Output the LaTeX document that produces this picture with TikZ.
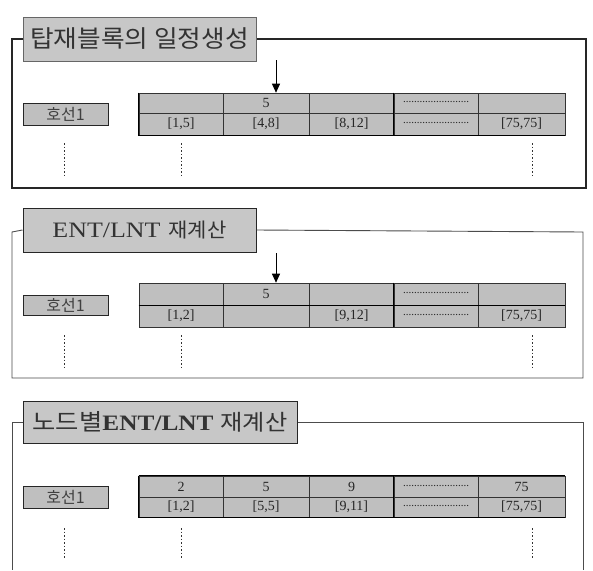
\documentclass[tikz,border=0pt]{standalone}
\usepackage{fontspec}
\setmainfont{Liberation Serif}
\newfontfamily\kr{Noto Sans CJK KR}
\usetikzlibrary{arrows.meta}
\def\mydots{\fontsize{11}{11}\selectfont\raisebox{2pt}{........................}}
\tikzset{
  cell/.style={draw=black!80, line width=0.6pt, fill=black!25, inner sep=0pt, anchor=center,
    font=\fontsize{14}{14}\selectfont, text=black!85},
  titlebox/.style={draw=black!60, line width=1pt, fill=black!22, inner sep=0pt, minimum height=44pt, text=black!80},
  hobox/.style={draw=black!85, line width=1pt, fill=black!25, inner sep=0pt, minimum width=85pt,
    font=\kr\fontsize{16}{16}\selectfont, text=black!75},
  frameline/.style={draw=black!70, line width=0.9pt},
  vdots/.style={draw=black!80, line width=1pt, dash pattern=on 1.5pt off 2pt},
  tablebold/.style={draw=black, line width=1.3pt},
  pointer/.style={draw=black, line width=0.9pt, -{Triangle[width=8pt,length=9pt]}},
}
\begin{document}
\begin{tikzpicture}[x=1pt,y=-1pt]
\useasboundingbox (0,0) rectangle (593,570);
\fill[white] (0,0) rectangle (593,570);

% ================= Panel 1 =================
\node[titlebox, minimum width=233pt] (t1) at (139.5,39)
  {\scalebox{1.07}[1]{\kr\fontsize{24}{24}\selectfont 탑재블록의 일정생성}};
\draw[frameline, line width=1.1pt, draw=black!85] (t1.west) -- (12,39) -- (12,188) -- (586,188) -- (586,39) -- (t1.east);
\node[hobox, minimum height=22pt] (h1) at (65.5,114) {호선1};
\foreach \c/\w/\a/\b [count=\i] in {181/84/{}/{[1,5]}, 266/86/{5}/{[4,8]}, 351.5/85/{}/{[8,12]}, 436/84/{\mydots}/{\mydots}, 521.5/87/{}/{[75,75]}}{
  \node[cell, minimum width=\w pt, minimum height=20pt] (p1a\i) at (\c,103) {\a};
  \node[cell, minimum width=\w pt, minimum height=22pt] (p1b\i) at (\c,124) {\b};
}
\draw[tablebold] (p1a1.north west) -- (p1b1.south west) -- (p1b5.south east);
\draw[tablebold] (p1a4.north west) -- (p1b4.south west);
\coordinate (s1) at (276,60);
\draw[pointer] (s1) -- (s1 |- p1a2.north);
\draw[vdots] (64,143) -- (64,175);
\draw[vdots] (181,143) -- (181,175);
\draw[vdots] (532,143) -- (532,175);

% ================= Panel 2 =================
\node[titlebox, minimum width=233pt, draw=black!85] (t2) at (139.5,230)
  {\scalebox{1.18}[1]{\fontsize{22}{22}\selectfont ENT/LNT}\hspace{8pt}\scalebox{1.05}[1]{\kr\fontsize{20}{20}\selectfont 재계산}};
\draw[frameline] (t2.west) -- (12,232) -- (12,378) -- (583,378) -- (583,232) -- (t2.east);
\node[hobox, minimum height=20pt] (h2) at (65.5,305) {호선1};
\foreach \c/\w/\a/\b [count=\i] in {181/84/{}/{[1,2]}, 266/86/{5}/{}, 351.5/85/{}/{[9,12]}, 436/84/{\mydots}/{\mydots}, 521.5/87/{}/{[75,75]}}{
  \node[cell, minimum width=\w pt, minimum height=22pt] (p2a\i) at (\c,294) {\a};
  \node[cell, minimum width=\w pt, minimum height=22pt] (p2b\i) at (\c,316) {\b};
}
\draw[tablebold] (p2a1.south west) -- (p2a5.south east);
\draw[tablebold] (p2a4.north west) -- (p2b4.south west);
\coordinate (s2) at (276,253);
\draw[pointer] (s2) -- (s2 |- p2a2.north);
\draw[vdots] (64,335) -- (64,367);
\draw[vdots] (181,335) -- (181,367);
\draw[vdots] (532,335) -- (532,367);

% ================= Panel 3 =================
\node[titlebox, minimum width=274pt, minimum height=42pt, draw=black!85] (t3) at (160,422)
  {\scalebox{1.1}[1]{\kr\fontsize{23}{23}\selectfont 노드별}\scalebox{1.15}[1]{\bfseries\fontsize{22}{22}\selectfont ENT/LNT}\hspace{7pt}\scalebox{1.1}[1]{\kr\fontsize{22}{22}\selectfont 재계산}};
\draw[frameline] (t3.west) -- (12,422) -- (12,570);
\draw[frameline] (t3.east) -- (583,422) -- (583,570);
\node[hobox, minimum height=22pt] (h3) at (65.5,497) {호선1};
\foreach \c/\w/\a/\b [count=\i] in {181/84/{2}/{[1,2]}, 266/86/{5}/{[5,5]}, 351.5/85/{9}/{[9,11]}, 436/84/{\mydots}/{\mydots}, 521.5/87/{75}/{[75,75]}}{
  \node[cell, minimum width=\w pt, minimum height=21pt] (p3a\i) at (\c,486.5) {\a};
  \node[cell, minimum width=\w pt, minimum height=20pt] (p3b\i) at (\c,507) {\b};
}
\draw[tablebold] (p3a1.north west) -- (p3b1.south west) -- (p3b5.south east);
\draw[tablebold] (p3a1.north west) -- (p3a5.north east);
\draw[tablebold] (p3a4.north west) -- (p3b4.south west);
\draw[vdots] (64,528) -- (64,558);
\draw[vdots] (181,528) -- (181,558);
\draw[vdots] (532,528) -- (532,558);
\end{tikzpicture}
\end{document}
